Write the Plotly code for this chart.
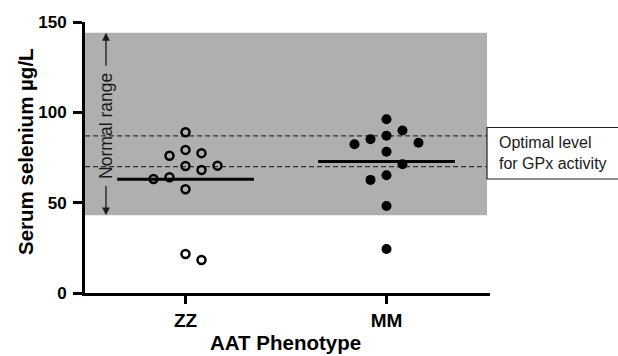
import plotly.graph_objects as go

# ---------------- data ----------------
categories = ["ZZ", "MM"]
zz_values = [89.0, 79.2, 77.4, 76.0, 70.5, 70.3, 68.1, 64.1, 63.1, 57.4, 21.6, 18.3]
mm_values = [96.2, 89.9, 87.1, 85.1, 83.2, 82.3, 78.2, 71.3, 65.2, 62.6, 48.2, 24.4]
normal_range = [43, 144]
optimal_level = [70, 87]
y_ticks = [0, 50, 100, 150]

# ---------------- layout constants ----------------
W, H = 618, 356
ML, MR, MT, MB = 85, 128, 22, 63
X_RANGE = [-0.5, 1.515]
Y_RANGE = [0, 150]
plot_w = W - ML - MR
plot_h = H - MT - MB
px_per_x = plot_w / (X_RANGE[1] - X_RANGE[0])
px_per_y = plot_h / (Y_RANGE[1] - Y_RANGE[0])
FONT = "Arial, Liberation Sans, sans-serif"


def swarm_slots(values, step_px=16.0, min_dist_px=16.0):
    """Deterministic beeswarm: place each point at the slot closest to centre
    that does not collide with already-placed points (pixel space)."""
    order = sorted(range(len(values)), key=lambda i: -values[i])
    cand = [0, 1, -1, 2, -2, 3, -3, 4, -4]
    slots = [0] * len(values)
    placed = []
    for i in order:
        for k in cand:
            ok = True
            for j in placed:
                dx = step_px * (k - slots[j])
                dy = (values[i] - values[j]) * px_per_y
                if dx * dx + dy * dy < min_dist_px ** 2:
                    ok = False
                    break
            if ok:
                slots[i] = k
                placed.append(i)
                break
    return [s * step_px / px_per_x for s in slots]


fig = go.Figure()

groups = [zz_values, mm_values]
symbols = ["circle-open", "circle"]
sizes = [8, 10]
for gi, (cat, vals) in enumerate(zip(categories, groups)):
    offs = swarm_slots(vals)
    fig.add_trace(go.Scatter(
        x=[gi + o for o in offs], y=vals, mode="markers",
        marker=dict(symbol=symbols[gi], size=sizes[gi], color="black",
                    line=dict(width=2.5 if gi == 0 else 0, color="black")),
        showlegend=False, hoverinfo="y"))
    mean = sum(vals) / len(vals)
    fig.add_trace(go.Scatter(
        x=[gi - 0.34, gi + 0.34], y=[mean, mean], mode="lines",
        line=dict(color="black", width=3), showlegend=False, hoverinfo="skip"))

shapes = []
# normal range band
shapes.append(dict(type="rect", xref="x", yref="y", x0=-0.5, x1=1.5,
                   y0=normal_range[0], y1=normal_range[1],
                   fillcolor="#afafaf", line=dict(width=0), layer="below"))
# optimal level dashed lines
for lv in optimal_level:
    shapes.append(dict(type="line", xref="x", yref="y", x0=-0.5, x1=1.5,
                       y0=lv, y1=lv, line=dict(color="#333333", width=1.3, dash="5px,3px"),
                       layer="below"))
# callout box
box_x0 = (487 - ML) / plot_w
box_x1 = (W + 10 - ML) / plot_w
shapes.append(dict(type="rect", xref="paper", yref="paper",
                   x0=box_x0, x1=box_x1,
                   y0=(H - MB - 179) / plot_h, y1=(H - MB - 127.5) / plot_h,
                   fillcolor="white", line=dict(color="#222222", width=1.2), layer="above"))

annotations = []
# Normal range label
nr_x = -0.5 + (106 - ML) / px_per_x
annotations.append(dict(x=nr_x, y=92.5, xref="x", yref="y", text="Normal range",
                        textangle=-90, showarrow=False, xanchor="center", yanchor="middle",
                        font=dict(family=FONT, size=17.5, color="#1a1a1a")))
# arrows
annotations.append(dict(x=nr_x, y=normal_range[1], ax=nr_x, ay=125,
                        xref="x", yref="y", axref="x", ayref="y", text="",
                        showarrow=True, arrowhead=2, arrowsize=1.2, arrowwidth=1.3,
                        arrowcolor="#1a1a1a", standoff=0))
annotations.append(dict(x=nr_x, y=normal_range[0], ax=nr_x, ay=60,
                        xref="x", yref="y", axref="x", ayref="y", text="",
                        showarrow=True, arrowhead=2, arrowsize=1.2, arrowwidth=1.3,
                        arrowcolor="#1a1a1a", standoff=0))
# callout text
annotations.append(dict(x=(497 - ML) / plot_w, y=(H - MB - 153) / plot_h,
                        xref="paper", yref="paper", xanchor="left", yanchor="middle",
                        align="left", text="Optimal level<br>for GPx activity",
                        showarrow=False, font=dict(family=FONT, size=16, color="#1a1a1a")))
# axis titles
annotations.append(dict(x=(25 - ML) / plot_w, y=(H - MB - 152) / plot_h,
                        xref="paper", yref="paper", textangle=-90, showarrow=False,
                        xanchor="center", yanchor="middle",
                        text="<b>Serum selenium µg/L</b>",
                        font=dict(family=FONT, size=20.5, color="black")))
annotations.append(dict(x=(285 - ML) / plot_w, y=(H - MB - 342) / plot_h,
                        xref="paper", yref="paper", showarrow=False,
                        xanchor="center", yanchor="middle",
                        text="<b>AAT Phenotype</b>",
                        font=dict(family=FONT, size=20.5, color="black")))

fig.update_layout(
    width=W, height=H,
    margin=dict(l=ML, r=MR, t=MT, b=MB, pad=0, autoexpand=False),
    paper_bgcolor="white", plot_bgcolor="white",
    shapes=shapes, annotations=annotations,
    xaxis=dict(range=X_RANGE, tickvals=[0, 1], ticktext=categories,
               showline=True, linewidth=3, linecolor="black",
               ticks="outside", ticklen=8, tickwidth=3, tickcolor="black",
               showgrid=False, zeroline=False,
               tickfont=dict(family=FONT, size=19, color="black", weight="bold")),
    yaxis=dict(range=Y_RANGE, tickvals=y_ticks,
               showline=True, linewidth=3, linecolor="black",
               ticks="outside", ticklen=9, tickwidth=3, tickcolor="black",
               ticklabelstandoff=3,
               showgrid=False, zeroline=False,
               tickfont=dict(family=FONT, size=17, color="black", weight="bold")),
)

fig.write_html("out.html", config={"displayModeBar": False},
               post_script="document.body.style.margin='0';document.body.style.padding='0';"
                           "document.body.style.overflow='hidden';")
